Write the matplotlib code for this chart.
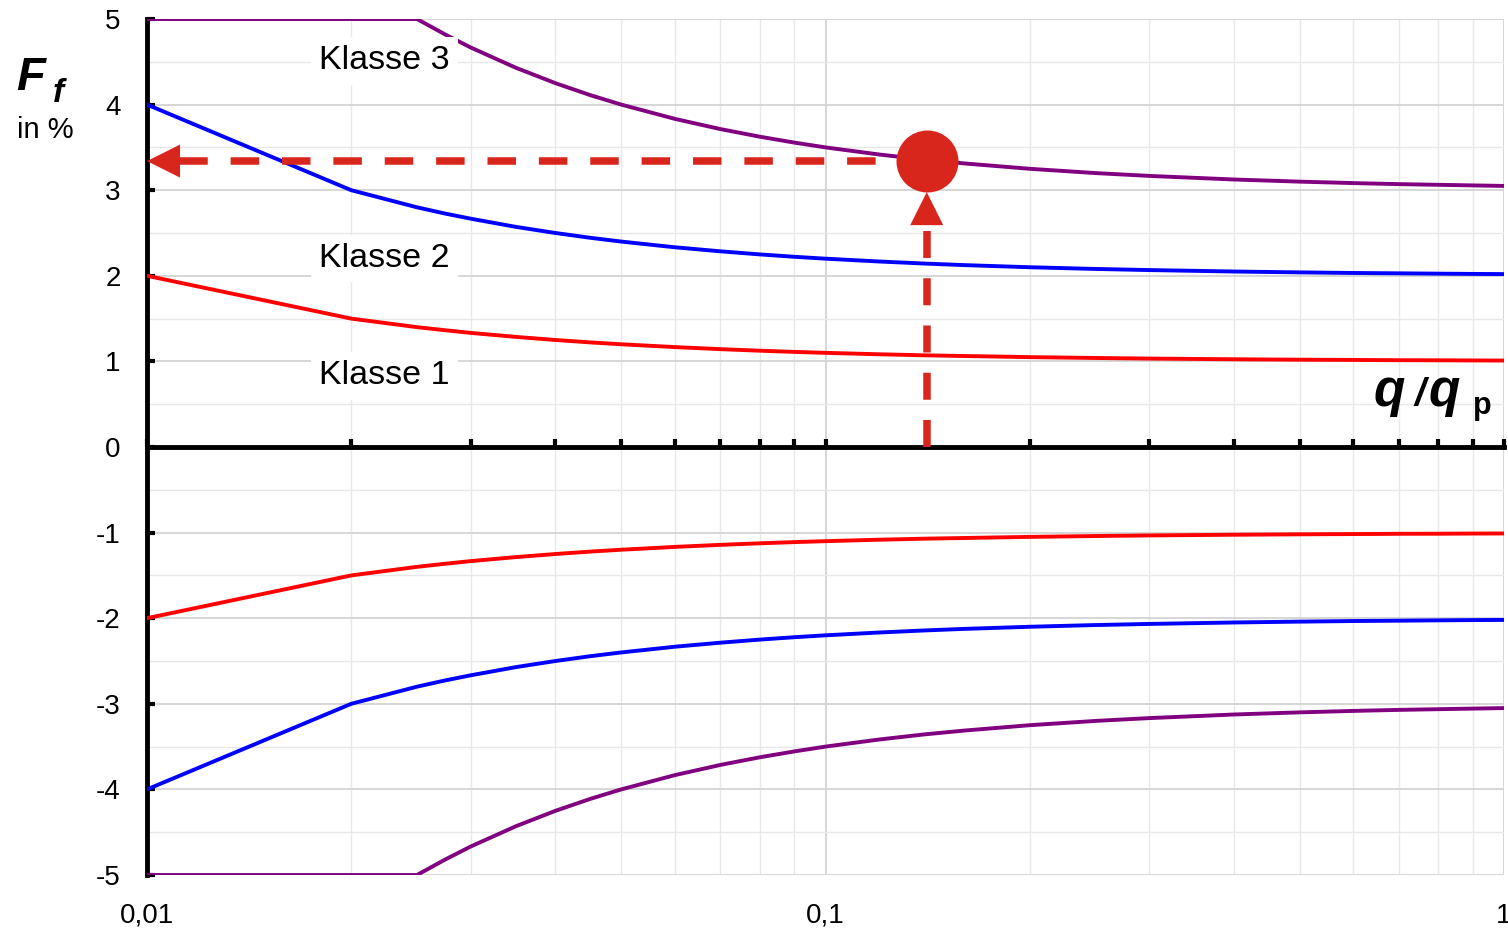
import numpy as np
import matplotlib
matplotlib.use("Agg")
import matplotlib.pyplot as plt
from matplotlib.ticker import NullFormatter
from matplotlib.transforms import offset_copy

plt.rcParams["font.family"] = ["Liberation Sans", "DejaVu Sans"]
plt.rcParams["axes.unicode_minus"] = False

# values
q_ratio = [0.01, 0.02, 0.025, 0.0275, 0.03, 0.035, 0.04, 0.045, 0.05, 0.06,
           0.07, 0.08, 0.09, 0.1, 0.12, 0.14, 0.16, 0.2, 0.25, 0.3,
           0.4, 0.5, 0.6, 0.7, 0.8, 0.9, 1.0]
klasse_1 = [2.0, 1.5, 1.4, 1.364, 1.333, 1.286, 1.25, 1.222, 1.2, 1.167,
            1.143, 1.125, 1.111, 1.1, 1.083, 1.071, 1.063, 1.05, 1.04, 1.033,
            1.025, 1.02, 1.017, 1.014, 1.013, 1.011, 1.01]
klasse_2 = [4.0, 3.0, 2.8, 2.727, 2.667, 2.571, 2.5, 2.444, 2.4, 2.333,
            2.286, 2.25, 2.222, 2.2, 2.167, 2.143, 2.125, 2.1, 2.08, 2.067,
            2.05, 2.04, 2.033, 2.029, 2.025, 2.022, 2.02]
klasse_3 = [5.0, 5.0, 5.0, 4.82, 4.667, 4.429, 4.25, 4.111, 4.0, 3.833,
            3.714, 3.625, 3.556, 3.5, 3.417, 3.357, 3.313, 3.25, 3.2, 3.167,
            3.125, 3.1, 3.083, 3.071, 3.063, 3.056, 3.05]

class_names = ["Klasse 1", "Klasse 2", "Klasse 3"]
class_values = [klasse_1, klasse_2, klasse_3]
class_colors = ["#FF0000", "#0000FF", "#800080"]
label_q = 0.0224
label_f = [0.83, 2.2, 4.51]

reading_q = 0.141
reading_f = 3.34

x_ticks = [0.01, 0.1, 1]
x_tick_labels = ["0,01", "0,1", "1"]
y_ticks = list(range(-5, 6))
y_half_ticks = [-4.5, -3.5, -2.5, -1.5, -0.5, 0.5, 1.5, 2.5, 3.5, 4.5]

W, H = 1508, 935
fig = plt.figure(figsize=(W / 100, H / 100), dpi=100)
ax = fig.add_axes([147 / W, 60 / H, 1357 / W, 856 / H])
ax.set_xscale("log")
ax.set_xlim(0.01, 1)
ax.set_ylim(-5, 5)

# grid
ax.set_xticks(x_ticks)
ax.xaxis.set_major_formatter(NullFormatter())
ax.xaxis.set_minor_formatter(NullFormatter())
ax.set_yticks(y_ticks)
ax.set_yticks(y_half_ticks, minor=True)
ax.grid(which="major", color="#D6D6D6", lw=1.4)
ax.grid(which="minor", color="#E8E8E8", lw=1.0)
ax.set_axisbelow(True)

# x axis line through zero, ticks pointing up
ax.spines["bottom"].set_position(("data", 0))
ax.spines["bottom"].set_linewidth(3.5)
ax.tick_params(axis="x", which="both", direction="in", length=6, width=3,
               labelbottom=False)
ax.tick_params(axis="y", which="major", direction="in", length=6, width=3,
               labelsize=20, pad=19)
ax.tick_params(axis="y", which="minor", length=0)
for side in ["top", "right"]:
    ax.spines[side].set_visible(False)
ax.spines["left"].set_linewidth(3.5)

# tick labels along the bottom edge
bottom_axis = ax.secondary_xaxis("bottom")
bottom_axis.spines["bottom"].set_visible(False)
bottom_axis.set_xticks(x_ticks, x_tick_labels)
bottom_axis.xaxis.set_minor_formatter(NullFormatter())
bottom_axis.tick_params(which="both", length=0, labelsize=20, pad=20)

# curves, positive and negative
for name, vals, col, fy in zip(class_names, class_values, class_colors, label_f):
    vals = np.array(vals)
    ax.plot(q_ratio, vals, color=col, lw=2.8, zorder=3)
    ax.plot(q_ratio, -vals, color=col, lw=2.8, zorder=3)
    ax.text(label_q, fy, name, fontsize=24.5, ha="center", va="center", zorder=5,
            bbox=dict(facecolor="white", edgecolor="none", pad=6))

# reading example: point with dashed arrows
arrow_color = "#D9261C"
dot_r_px = 31
head_px = 33
px_per_pt = fig.dpi / 72

ax.plot(reading_q, reading_f, "o", ms=2 * dot_r_px / px_per_pt, mew=0,
        color=arrow_color, zorder=7)

to_disp = ax.transData.transform
from_disp = ax.transData.inverted().transform

x0_px = to_disp((q_ratio[0], reading_f))[0]
x_stop = from_disp((x0_px + head_px, 0))[0]
ax.plot([reading_q, x_stop], [reading_f, reading_f], color=arrow_color,
        lw=5.4, dashes=(3.8, 3.05), zorder=6)

tip_y_px = to_disp((reading_q, reading_f))[1] - dot_r_px
f_stop = from_disp((0, tip_y_px - head_px))[1]
ax.plot([reading_q, reading_q], [0, f_stop], color=arrow_color,
        lw=5.4, dashes=(3.6, 2.7), zorder=6)

head_style = "-|>,head_length={:.1f},head_width={:.1f}".format(
    head_px / px_per_pt, 16.5 / px_per_pt)
arrow_props = dict(arrowstyle=head_style, mutation_scale=1, color=arrow_color,
                   lw=0, shrinkA=0, shrinkB=0)
ax.annotate("", xy=(q_ratio[0], reading_f),
            xytext=(head_px / px_per_pt, 0), textcoords="offset points",
            arrowprops=arrow_props, zorder=8)
ax.annotate("", xy=(reading_q, reading_f),
            xycoords=offset_copy(ax.transData, fig=fig, y=-dot_r_px / px_per_pt,
                                 units="points"),
            xytext=(0, -head_px / px_per_pt), textcoords="offset points",
            arrowprops=arrow_props, zorder=8)

# axis titles
fig.text(16 / W, 1 - 90 / H, "F", fontsize=34, fontweight="bold",
         fontstyle="italic", ha="left", va="baseline")
fig.text(53 / W, 1 - 102 / H, "f", fontsize=24, fontweight="bold",
         fontstyle="italic", ha="left", va="baseline")
fig.text(17 / W, 1 - 138 / H, "in %", fontsize=21, ha="left", va="baseline")

fig.text(1374 / W, 1 - 406 / H, "q", fontsize=37, fontweight="bold",
         fontstyle="italic", ha="left", va="baseline")
fig.text(1414 / W, 1 - 405 / H, "/", fontsize=28, fontweight="bold",
         fontstyle="italic", ha="left", va="baseline")
fig.text(1429 / W, 1 - 406 / H, "q", fontsize=37, fontweight="bold",
         fontstyle="italic", ha="left", va="baseline")
fig.text(1473 / W, 1 - 414 / H, "p", fontsize=22, fontweight="bold",
         ha="left", va="baseline")

fig.savefig("out.png", dpi=100)
